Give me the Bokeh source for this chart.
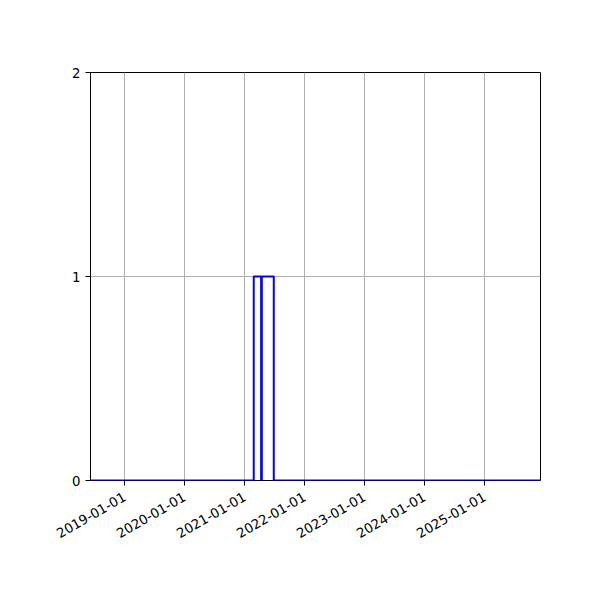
from datetime import datetime
from math import pi

from bokeh.plotting import figure
from bokeh.models import FixedTicker, DatetimeTickFormatter, Range1d
from bokeh.embed import file_html
from bokeh.resources import INLINE

# motion state over time (0 = idle, 1 = motion)
times = ["2018-06-08", "2021-02-26", "2021-02-26", "2021-04-12", "2021-04-12",
         "2021-04-16", "2021-04-16", "2021-06-28", "2021-06-28", "2025-12-08"]
states = [0, 0, 1, 1, 0, 0, 1, 1, 0, 0]

tick_dates = ["2019-01-01", "2020-01-01", "2021-01-01", "2022-01-01",
              "2023-01-01", "2024-01-01", "2025-01-01"]
y_ticks = [0, 1, 2]

t = [datetime.fromisoformat(d) for d in times]
ticks_ms = [datetime.fromisoformat(d).timestamp() * 1000 for d in tick_dates]

p = figure(x_axis_type="datetime", width=592, height=592,
           output_backend="svg", toolbar_location=None,
           x_range=Range1d(t[0], t[-1]), y_range=Range1d(0, 2),
           min_border_left=90, min_border_right=52,
           min_border_top=72, min_border_bottom=112)

p.outline_line_color = "black"
p.outline_line_width = 1

p.xaxis.ticker = FixedTicker(ticks=ticks_ms)
p.xaxis.formatter = DatetimeTickFormatter(days="%Y-%m-%d", months="%Y-%m-%d",
                                          years="%Y-%m-%d")
p.xaxis.major_label_orientation = pi / 6
p.yaxis.ticker = FixedTicker(ticks=y_ticks)

for ax in (p.xaxis, p.yaxis):
    ax.axis_line_color = None
    ax.minor_tick_line_color = None
    ax.major_tick_line_color = "black"
    ax.major_tick_out = 5
    ax.major_tick_in = 0
    ax.major_label_text_font = "DejaVu Sans"
    ax.major_label_text_font_size = "13.3px"
    ax.major_label_text_color = "black"
    ax.major_label_standoff = 5
p.xaxis.major_label_standoff = 10

p.xgrid.grid_line_color = "#b0b0b0"
p.ygrid.grid_line_color = "#b0b0b0"
p.xgrid.grid_line_width = 1
p.ygrid.grid_line_width = 1

p.line(t, states, line_color="blue", line_width=2)

open("out.html", "w").write(file_html(p, INLINE))
